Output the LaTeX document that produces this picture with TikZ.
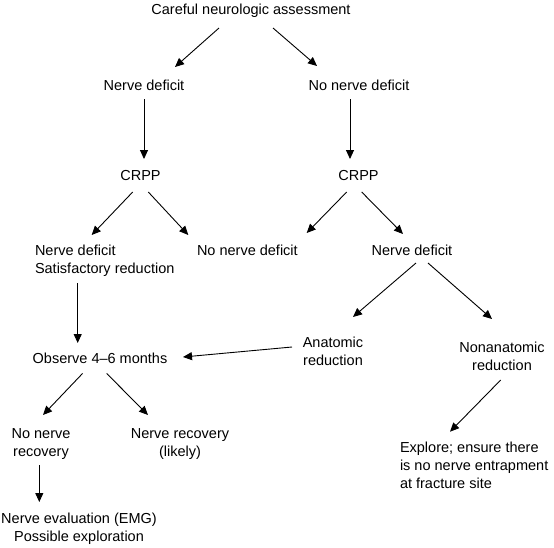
\documentclass[tikz,border=0pt]{standalone}
\usepackage{fontspec}
\setmainfont{Liberation Sans}
\usetikzlibrary{arrows.meta}
\begin{document}
\begin{tikzpicture}[x=1pt,y=-1pt,
  lbl/.style={inner sep=0pt, outer sep=0pt, font=\fontsize{14.5}{18.3}\selectfont},
  cbox/.style={lbl, align=center, anchor=north},
  lbox/.style={lbl, align=left, anchor=north west},
  arr/.style={-{Triangle[length=9pt,width=8pt]}, line width=0.9pt}]
\useasboundingbox (0,0) rectangle (554,547);
\fill[white] (0,0) rectangle (554,547);

\node[cbox] (top) at (251,1.4) {\strut Careful neurologic assessment};
\node[cbox] (nd1) at (144,77.7) {\strut Nerve deficit};
\node[cbox] (nnd1) at (359,77.7) {\strut No nerve deficit};
\node[cbox] (crpp1) at (140.5,167.7) {\strut CRPP};
\node[cbox] (crpp2) at (358.5,167.7) {\strut CRPP};
\node[lbox] (ndsat) at (35,242.7) {\strut Nerve deficit\\\strut Satisfactory reduction};
\node[lbox] (nnd2) at (197,242.7) {\strut No nerve deficit};
\node[cbox] (nd3) at (412,242.7) {\strut Nerve deficit};
\node[cbox] (anat) at (333,334.4) {\strut Anatomic\\\strut reduction};
\node[cbox] (nonanat) at (502,339.2) {\strut Nonanatomic\\\strut reduction};
\node[cbox] (observe) at (100,350.4) {\strut Observe 4–6 months};
\node[lbox] (explore) at (400,439.4) {\strut Explore; ensure there\\\strut is no nerve entrapment\\\strut at fracture site};
\node[cbox] (nonrec) at (41,425.4) {\strut No nerve\\\strut recovery};
\node[cbox] (nrec) at (180,425.4) {\strut Nerve recovery\\\strut (likely)};
\node[cbox] (eval) at (79,510.4) {\strut Nerve evaluation (EMG)\\\strut Possible exploration};

\draw[arr] ([shift={(-32,26.6)}]top.north) -- ([shift={(31,-10.7)}]nd1.north);
\draw[arr] ([shift={(22,26.6)}]top.north) -- ([shift={(-42,-11.7)}]nnd1.north);
\draw[arr] ([shift={(0,21.3)}]nd1.north) -- ([shift={(3.5,-8.7)}]crpp1.north);
\draw[arr] ([shift={(-9,21.3)}]nnd1.north) -- ([shift={(-8.5,-8.7)}]crpp2.north);
\draw[arr] ([shift={(-7.8,24.3)}]crpp1.north) -- ([shift={(56.7,-7.7)}]ndsat.north west);
\draw[arr] ([shift={(7.8,24.3)}]crpp1.north) -- ([shift={(-8.7,-7.7)}]nnd2.north west);
\draw[arr] ([shift={(-11.8,24.3)}]crpp2.north) -- ([shift={(109.7,-9.7)}]nnd2.north west);
\draw[arr] ([shift={(3.2,24.3)}]crpp2.north) -- ([shift={(-9,-8.7)}]nd3.north);
\draw[arr] ([shift={(4,20.3)}]nd3.north) -- ([shift={(20,-17.4)}]anat.north);
\draw[arr] ([shift={(16,20.3)}]nd3.north) -- ([shift={(-10,-20.2)}]nonanat.north);
\draw[arr] ([shift={(42.7,40.3)}]ndsat.north west) -- ([shift={(-22.3,-7.4)}]observe.north);
\draw[arr] ([shift={(-41,12.6)}]anat.north) -- ([shift={(83,6.6)}]observe.north);
\draw[arr] ([shift={(-1.3,40.8)}]nonanat.north) -- ([shift={(50,-7.7)}]explore.north west);
\draw[arr] ([shift={(-17.4,23)}]observe.north) -- ([shift={(2,-10.4)}]nonrec.north);
\draw[arr] ([shift={(6.6,23)}]observe.north) -- ([shift={(-32,-10.4)}]nrec.north);
\draw[arr] ([shift={(-1.7,39.6)}]nonrec.north) -- ([shift={(-39.7,-8.4)}]eval.north);
\end{tikzpicture}
\end{document}
